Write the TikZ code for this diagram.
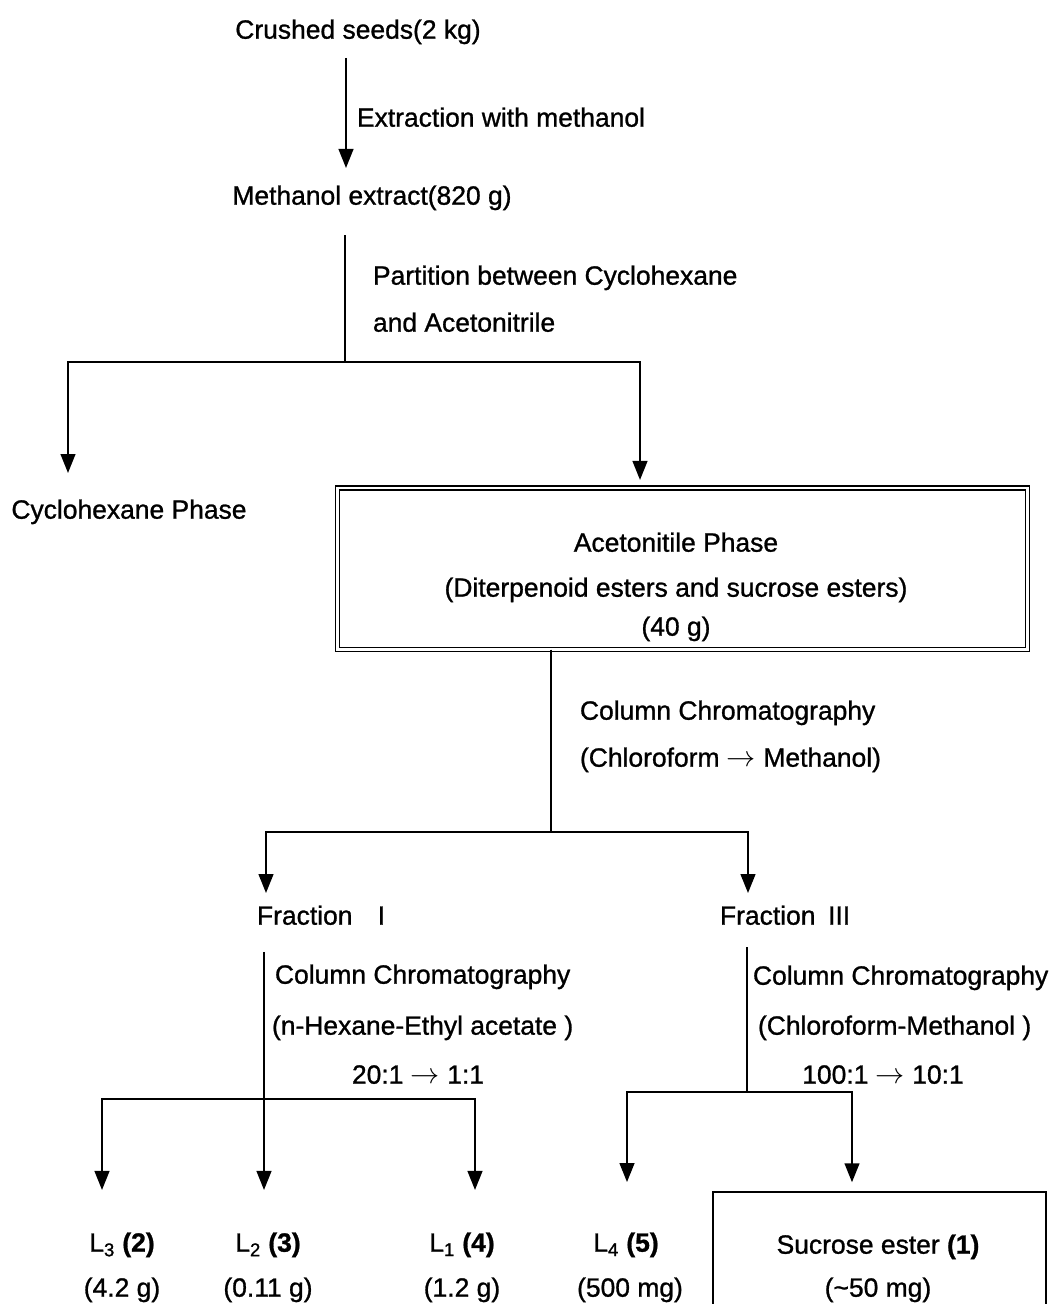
\documentclass[tikz,border=0pt]{standalone}
\usepackage{fontspec}
\setmainfont{Liberation Sans}[FakeBold=1]
\usetikzlibrary{arrows.meta,positioning}
\newcommand{\fsz}{\fontsize{18.8}{22}\selectfont}
\newcommand{\ra}{{\fontsize{22}{22}\selectfont$\rightarrow$}}

\begin{document}
\begin{tikzpicture}[x=0.025cm,y=-0.025cm,
	txt/.style={inner sep=0pt,outer sep=0pt,text height=13.5pt,text depth=4pt,font=\fsz},
	ln/.style={line width=1.4pt},
	arr/.style={line width=1.4pt,-{Triangle[width=10.5pt,length=13.5pt]}}]
	\useasboundingbox (0,0) rectangle (1055,1304);

	%extraction
	\node[txt] (seeds) at (358,32) {Crushed seeds(2 kg)};
	\node[txt,anchor=west] (extr) at (357,120) {Extraction with methanol};
	\node[txt] (extract) at (372,198) {Methanol extract(820 g)};
	\coordinate (a1) at (346,0);
	\draw[arr,shorten <=9.7pt,shorten >=12.6pt] (seeds.south -| a1) -- (extract.north -| a1);

	%partition
	\node[txt,anchor=west] (part1) at (373,278) {Partition between Cyclohexane};
	\node[txt,anchor=west] (part2) at (373,325) {and Acetonitrile};
	\node[txt] (cyc) at (129,512) {Cyclohexane Phase};
	\node[draw,double,line width=1pt,double distance=2pt,outer sep=0pt,
		minimum width=490.8pt,minimum height=114.9pt] (acn) at (682.5,568.75) {};
	\node[txt] (acn1) at (676,545) {Acetonitile Phase};
	\node[txt] (acn2) at (676,590) {(Diterpenoid esters and sucrose esters)};
	\node[txt] (acn3) at (676,629) {(40 g)};
	\coordinate (b1) at (345,362);
	\draw[ln,shorten <=17.6pt] (extract.south -| b1) -- (b1);
	\draw[arr,shorten >=19pt] (b1) -| (cyc.north -| 68,0);
	\draw[arr,shorten >=5.7pt] (b1) -| (acn.north -| 640,0);

	%column 1
	\node[txt,anchor=west] (cc1) at (580,713) {Column Chromatography};
	\node[txt,anchor=west] (cc2) at (580,760) {(Chloroform \ra{} Methanol)};
	\node[txt,anchor=west] (fr1) at (257,918) {Fraction\hspace{18pt}I};
	\node[txt,anchor=west] (fr3) at (720,918) {Fraction\hspace{9pt}III};
	\coordinate (b2) at (551,832);
	\draw[ln] (acn.south -| b2) -- (b2);
	\draw[arr,shorten >=9pt] (b2) -| (fr1.north -| 266,0);
	\draw[arr,shorten >=9pt] (b2) -| (fr3.north -| 748,0);

	%fraction I
	\node[txt,anchor=west] (fa1) at (275,977) {Column Chromatography};
	\node[txt,anchor=west] (fa2) at (272,1028) {(n-Hexane-Ethyl acetate )};
	\node[txt] (fa3) at (418,1077) {20:1 \ra{} 1:1};
	\node[txt] (l3) at (122,1245) {L\textsubscript{3} \textbf{(2)}};
	\node[txt] (m3) at (122,1290) {(4.2 g)};
	\node[txt] (l2) at (268,1245) {L\textsubscript{2} \textbf{(3)}};
	\node[txt] (m2) at (268,1290) {(0.11 g)};
	\node[txt] (l1) at (462,1245) {L\textsubscript{1} \textbf{(4)}};
	\node[txt] (m1) at (462,1290) {(1.2 g)};
	\coordinate (b3) at (264,1099);
	\draw[ln,shorten <=15.4pt] (fr1.south -| b3) -- (b3);
	\draw[arr,shorten >=30.4pt] (b3) -| (l3.north -| 102,0);
	\draw[arr,shorten >=30.4pt] (b3) -- (l2.north -| b3);
	\draw[arr,shorten >=30.4pt] (b3) -| (l1.north -| 475,0);

	%fraction III
	\node[txt,anchor=west] (fb1) at (753,978) {Column Chromatography};
	\node[txt,anchor=west] (fb2) at (758,1028) {(Chloroform-Methanol )};
	\node[txt] (fb3) at (883,1077) {100:1 \ra{} 10:1};
	\node[txt] (l4) at (626,1245) {L\textsubscript{4} \textbf{(5)}};
	\node[txt] (m4) at (630,1290) {(500 mg)};
	\node[draw,line width=1.2pt,outer sep=0pt,minimum width=236.9pt,
		minimum height=98pt] (sucbox) at (879.5,1261) {};
	\node[txt] (suc) at (878,1247) {Sucrose ester \textbf{(1)}};
	\node[txt] (sucm) at (878,1290) {(\textasciitilde50 mg)};
	\coordinate (b4) at (747,1092);
	\draw[ln,shorten <=11.9pt] (fr3.south -| b4) -- (b4);
	\draw[arr,shorten >=36pt] (b4) -| (l4.north -| 627,0);
	\draw[arr,shorten >=7pt] (b4) -| (sucbox.north -| 852,0);
\end{tikzpicture}
\end{document}
